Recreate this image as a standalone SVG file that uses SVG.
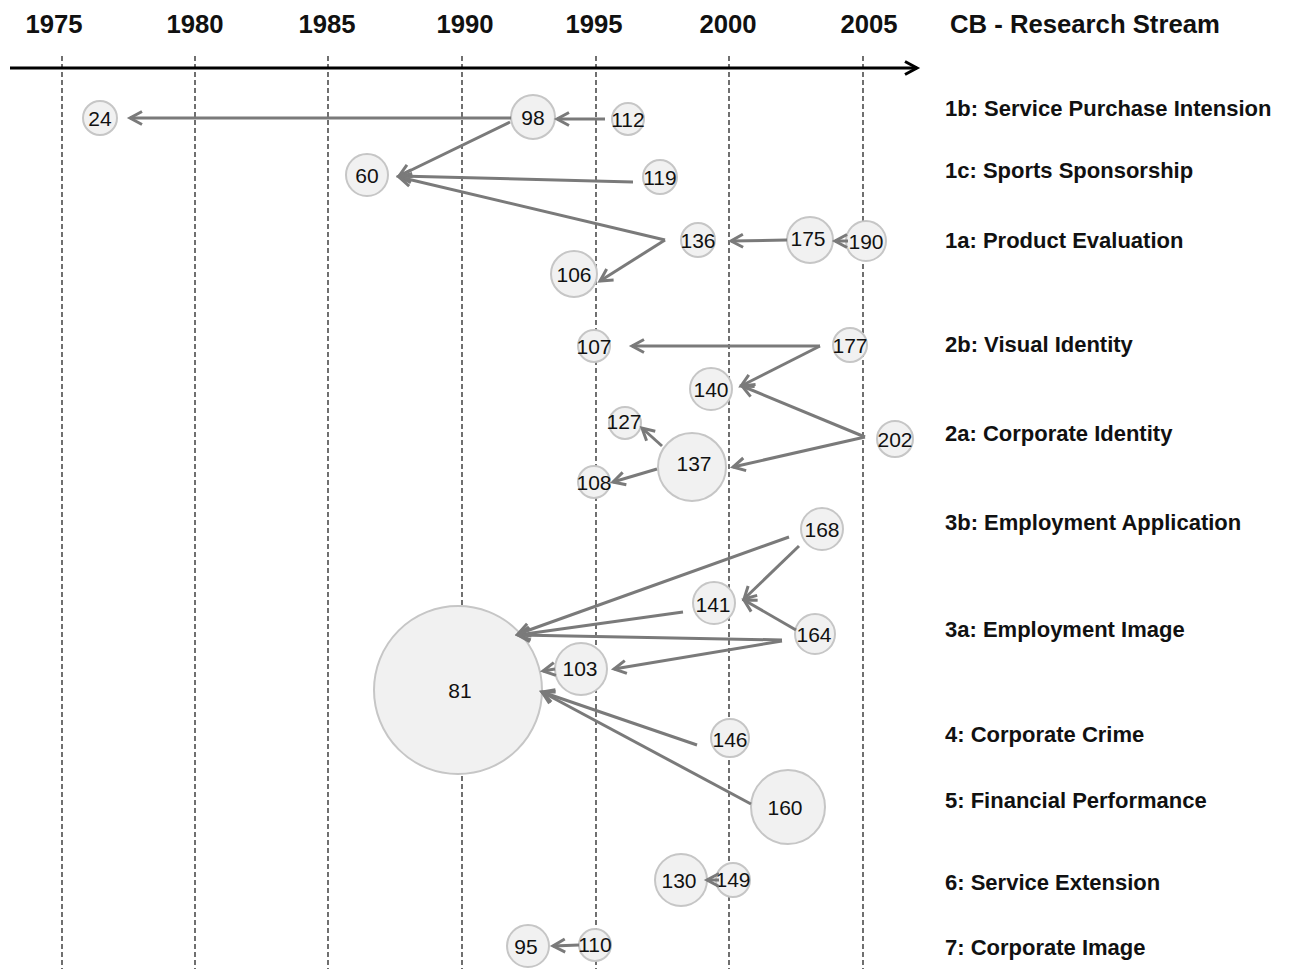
<svg xmlns="http://www.w3.org/2000/svg" width="1289" height="969" viewBox="0 0 1289 969">
<defs>
<marker id="ah" markerUnits="userSpaceOnUse" markerWidth="20" markerHeight="20" refX="0" refY="0" orient="auto" overflow="visible">
<path d="M-12,-6.5 L0,0 L-12,6.5" fill="none" stroke="#7a7a7a" stroke-width="3" stroke-linejoin="miter"/>
</marker>
<marker id="axh" markerUnits="userSpaceOnUse" markerWidth="20" markerHeight="20" refX="0" refY="0" orient="auto" overflow="visible">
<path d="M-12,-6.5 L0,0 L-12,6.5" fill="none" stroke="#000" stroke-width="3"/>
</marker>
</defs>
<style>
.yr{font-family:"Liberation Sans",Arial,sans-serif;font-weight:bold;font-size:25.7px;fill:#111;text-anchor:middle}
.lbl{font-family:"Liberation Sans",Arial,sans-serif;font-weight:bold;font-size:22px;fill:#111}
.grid{stroke:#111;stroke-width:1.2;stroke-dasharray:5,3}
.n circle{fill:#f1f1f1;stroke:#c6c6c6;stroke-width:2}
.n text{font-family:"Liberation Sans",Arial,sans-serif;font-size:21px;fill:#111;text-anchor:middle;dominant-baseline:central}
.c line{stroke:#7a7a7a;stroke-width:3;marker-end:url(#ah)}
</style>
<rect width="1289" height="969" fill="#fff"/>
<g id="grid">
<line class="grid" x1="62" y1="56" x2="62" y2="969"/>
<line class="grid" x1="195" y1="56" x2="195" y2="969"/>
<line class="grid" x1="328" y1="56" x2="328" y2="969"/>
<line class="grid" x1="462" y1="56" x2="462" y2="969"/>
<line class="grid" x1="596" y1="56" x2="596" y2="969"/>
<line class="grid" x1="729" y1="56" x2="729" y2="969"/>
<line class="grid" x1="863" y1="56" x2="863" y2="969"/>
</g>
<g id="axis">
<line x1="10" y1="68" x2="917" y2="68" stroke="#000" stroke-width="3" marker-end="url(#axh)"/>
<text class="yr" x="54" y="33">1975</text>
<text class="yr" x="195" y="33">1980</text>
<text class="yr" x="327" y="33">1985</text>
<text class="yr" x="465" y="33">1990</text>
<text class="yr" x="594" y="33">1995</text>
<text class="yr" x="728" y="33">2000</text>
<text class="yr" x="869" y="33">2005</text>
<text class="yr" x="950" y="33" style="text-anchor:start">CB - Research Stream</text>
</g>
<g id="labels">
<text class="lbl" x="945" y="116">1b: Service Purchase Intension</text>
<text class="lbl" x="945" y="178">1c: Sports Sponsorship</text>
<text class="lbl" x="945" y="248">1a: Product Evaluation</text>
<text class="lbl" x="945" y="352">2b: Visual Identity</text>
<text class="lbl" x="945" y="441">2a: Corporate Identity</text>
<text class="lbl" x="945" y="530">3b: Employment Application</text>
<text class="lbl" x="945" y="637">3a: Employment Image</text>
<text class="lbl" x="945" y="742">4: Corporate Crime</text>
<text class="lbl" x="945" y="808">5: Financial Performance</text>
<text class="lbl" x="945" y="890">6: Service Extension</text>
<text class="lbl" x="945" y="955">7: Corporate Image</text>
</g>
<g id="n24" class="n"><circle cx="100" cy="118" r="17"/><text x="100" y="118">24</text></g>
<g id="n98" class="n"><circle cx="533" cy="117" r="22"/><text x="533" y="117">98</text></g>
<g id="n112" class="n"><circle cx="628" cy="119" r="16"/><text x="628" y="119">112</text></g>
<g id="n60" class="n"><circle cx="367" cy="175" r="21"/><text x="367" y="175">60</text></g>
<g id="n119" class="n"><circle cx="660" cy="177" r="17"/><text x="660" y="177">119</text></g>
<g id="n136" class="n"><circle cx="698" cy="240" r="17"/><text x="698" y="240">136</text></g>
<g id="n175" class="n"><circle cx="810" cy="240" r="23"/><text x="808" y="238">175</text></g>
<g id="n190" class="n"><circle cx="866" cy="241" r="20"/><text x="866" y="241">190</text></g>
<g id="n106" class="n"><circle cx="574" cy="274" r="23"/><text x="574" y="274">106</text></g>
<g id="n107" class="n"><circle cx="594" cy="346" r="16"/><text x="594" y="346">107</text></g>
<g id="n177" class="n"><circle cx="850" cy="345" r="17"/><text x="850" y="345">177</text></g>
<g id="n140" class="n"><circle cx="711" cy="389" r="21"/><text x="711" y="389">140</text></g>
<g id="n202" class="n"><circle cx="895" cy="439" r="18"/><text x="895" y="439">202</text></g>
<g id="n127" class="n"><circle cx="625" cy="423" r="16"/><text x="624" y="421">127</text></g>
<g id="n137" class="n"><circle cx="692" cy="467" r="34"/><text x="694" y="463">137</text></g>
<g id="n108" class="n"><circle cx="594" cy="482" r="16"/><text x="594" y="482">108</text></g>
<g id="n168" class="n"><circle cx="822" cy="529" r="21"/><text x="822" y="529">168</text></g>
<g id="n141" class="n"><circle cx="714" cy="603" r="21"/><text x="713" y="604">141</text></g>
<g id="n164" class="n"><circle cx="815" cy="634" r="20"/><text x="814" y="634">164</text></g>
<g id="n103" class="n"><circle cx="581" cy="669" r="26"/><text x="580" y="668">103</text></g>
<g id="n81" class="n"><circle cx="458" cy="690" r="84"/><text x="460" y="690">81</text></g>
<g id="n146" class="n"><circle cx="730" cy="738" r="19"/><text x="730" y="739">146</text></g>
<g id="n160" class="n"><circle cx="788" cy="807" r="37"/><text x="785" y="807">160</text></g>
<g id="n130" class="n"><circle cx="681" cy="880" r="26"/><text x="679" y="880">130</text></g>
<g id="n149" class="n"><circle cx="733" cy="880" r="17"/><text x="733" y="879">149</text></g>
<g id="n95" class="n"><circle cx="528" cy="946" r="21"/><text x="526" y="946">95</text></g>
<g id="n110" class="n"><circle cx="595" cy="945" r="16"/><text x="595" y="944">110</text></g>
<g id="connectors" class="c">
<line x1="511" y1="118" x2="130" y2="118"/>
<line x1="605" y1="119" x2="557" y2="119"/>
<line x1="510" y1="122" x2="399" y2="176"/>
<line x1="633" y1="182" x2="399" y2="176"/>
<line x1="665" y1="240" x2="399" y2="177"/>
<line x1="665" y1="240" x2="600" y2="281"/>
<line x1="787" y1="240" x2="731" y2="241"/>
<line x1="848" y1="241" x2="835" y2="241"/>
<line x1="820" y1="346" x2="632" y2="346"/>
<line x1="820" y1="346" x2="741" y2="386"/>
<line x1="865" y1="437" x2="742" y2="386"/>
<line x1="865" y1="437" x2="733" y2="467"/>
<line x1="662" y1="446" x2="642" y2="428"/>
<line x1="657" y1="469" x2="613" y2="482"/>
<line x1="789" y1="537" x2="518" y2="634"/>
<line x1="799" y1="546" x2="744" y2="599"/>
<line x1="683" y1="612" x2="518" y2="635"/>
<line x1="782" y1="640" x2="518" y2="635"/>
<line x1="782" y1="641" x2="614" y2="669"/>
<line x1="796" y1="630" x2="744" y2="600"/>
<line x1="555" y1="669" x2="543" y2="671"/>
<line x1="697" y1="745" x2="542" y2="692"/>
<line x1="751" y1="804" x2="542" y2="692"/>
<line x1="719" y1="880" x2="707" y2="880"/>
<line x1="579" y1="945" x2="553" y2="946"/>
</g>
</svg>
